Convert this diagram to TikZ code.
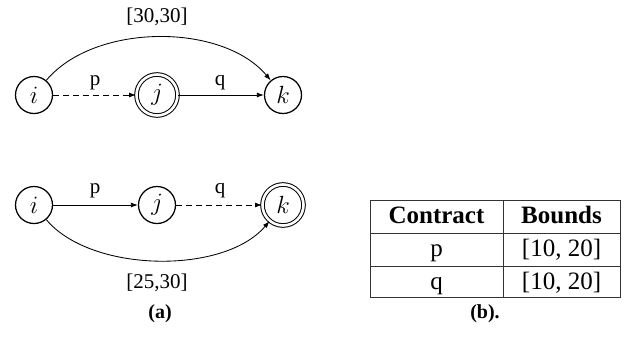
\documentclass[tikz,border=0pt]{standalone}
\usepackage{fontspec}
\setmainfont{Liberation Serif}
\usetikzlibrary{arrows.meta}
\begin{document}
\begin{tikzpicture}[x=1pt,y=-1pt,
  state/.style={circle,draw,line width=1.25pt,minimum size=37pt,inner sep=0pt,font=\fontsize{23}{27}\selectfont},
  accstate/.style={circle,draw,line width=1pt,double,double distance=2.6pt,minimum size=41pt,inner sep=0pt,font=\fontsize{23}{27}\selectfont},
  edge/.style={line width=0.85pt,-{Latex[length=7pt,width=5pt]}},
  dashedge/.style={edge,dash pattern=on 6pt off 4pt},
  lbl/.style={font=\fontsize{21}{25}\selectfont,anchor=base,inner sep=0pt},
  captxt/.style={font=\fontsize{20}{24}\selectfont\bfseries,anchor=base,inner sep=0pt},
  cell/.style={font=\fontsize{25}{30}\selectfont,anchor=base,inner sep=0pt},
  tline/.style={line width=1pt,draw=black!80}]
\useasboundingbox (0,0) rectangle (629,338);
% top graph
\node[state] (i1) at (34,95) {$i$};
\node[accstate] (j1) at (157,95) {$j$};
\node[state] (k1) at (283,95) {$k$};
\draw[dashedge] (i1) -- (j1);
\draw[edge] (j1) -- (k1);
\draw[edge] (i1) to[out=50,in=130,looseness=0.86] (k1);
\node[lbl] (p1) at (95,85) {p};
\node[lbl] (q1) at (220,85) {q};
\node[lbl] (b1) at (157,22) {[30,30]};
% bottom graph
\node[state] (i2) at (34,205) {$i$};
\node[state] (j2) at (157,205) {$j$};
\node[accstate] (k2) at (283,205) {$k$};
\draw[edge] (i2) -- (j2);
\draw[dashedge] (j2) -- (k2);
\draw[edge] (i2) to[out=-50,in=-130,looseness=0.8] (k2);
\node[lbl] (p2) at (95,193) {p};
\node[lbl] (q2) at (220,193) {q};
\node[lbl] (b2) at (157,288) {[25,30]};
\node[captxt] (ca) at (160,318) {(a)};
% table
\draw[tline] (370,200) rectangle (620,297);
\draw[tline] (370,233) -- (620,233);
\draw[tline] (370,266) -- (620,266);
\draw[tline] (503,200) -- (503,297);
\node[cell,font=\fontsize{25}{30}\selectfont\bfseries] (h1) at (436.5,223) {Contract};
\node[cell,font=\fontsize{25}{30}\selectfont\bfseries] (h2) at (561.5,223) {Bounds};
\node[cell] (c1) at (436.5,256) {p};
\node[cell] (c2) at (561.5,256) {[10, 20]};
\node[cell] (c3) at (436.5,289) {q};
\node[cell] (c4) at (561.5,289) {[10, 20]};
\node[captxt] (cb) at (485,318) {(b).};
\end{tikzpicture}
\end{document}
